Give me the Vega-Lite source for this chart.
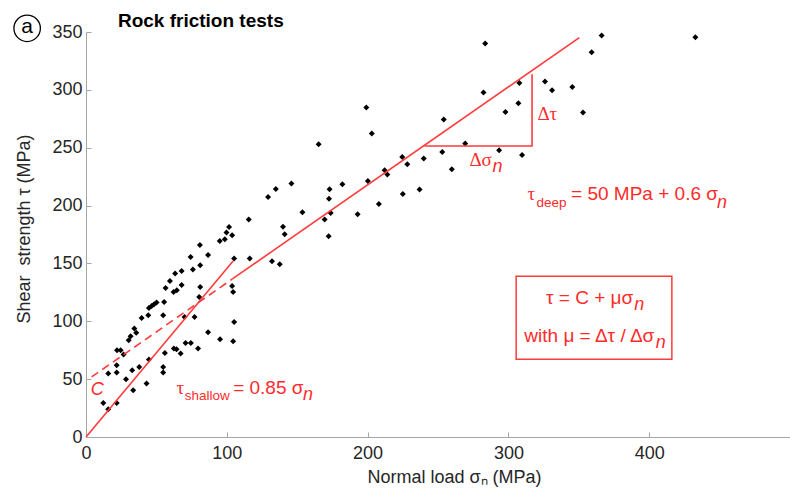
{
  "$schema": "https://vega.github.io/schema/vega-lite/v6.json",
  "width": 704,
  "height": 405,
  "autosize": {"type": "none"},
  "padding": {"left": 86, "top": 32, "right": 0, "bottom": 53},
  "config": {"view": {"stroke": null}, "font": "Liberation Sans"},
  "datasets": {
    "pts": [
      {"x":80.9,"y":165.9},{"x":95.0,"y":169.4},{"x":98.6,"y":170.9},{"x":99.8,"y":176.7},{"x":101.6,"y":181.5},{"x":103.8,"y":174.3},{"x":74.3,"y":155.6},{"x":86.7,"y":157.3},{"x":105.2,"y":154.2},{"x":75.9,"y":144.7},{"x":81.1,"y":148.4},{"x":63.3,"y":141.2},{"x":67.9,"y":143.5},{"x":59.6,"y":134.8},{"x":56.5,"y":128.8},{"x":67.9,"y":131.4},{"x":62.2,"y":125.3},{"x":64.5,"y":126.8},{"x":81.1,"y":129.6},{"x":103.8,"y":130.5},{"x":104.5,"y":125.3},{"x":80.4,"y":121.0},{"x":55.5,"y":116.7},{"x":50.1,"y":116.2},{"x":48.4,"y":114.7},{"x":46.6,"y":113.2},{"x":44.7,"y":111.5},{"x":44.2,"y":105.2},{"x":39.5,"y":102.9},{"x":54.8,"y":105.2},{"x":70.0,"y":103.7},{"x":77.1,"y":103.7},{"x":34.3,"y":93.7},{"x":35.7,"y":90.2},{"x":31.7,"y":87.0},{"x":30.3,"y":83.6},{"x":86.7,"y":90.5},{"x":105.2,"y":99.4},{"x":95.2,"y":84.4},{"x":104.5,"y":82.7},{"x":22.0,"y":74.9},{"x":24.6,"y":74.9},{"x":26.7,"y":71.2},{"x":70.7,"y":81.2},{"x":74.5,"y":81.2},{"x":62.4,"y":76.4},{"x":64.3,"y":75.8},{"x":67.2,"y":72.1},{"x":79.6,"y":76.4},{"x":56.0,"y":72.6},{"x":44.7,"y":66.9},{"x":15.8,"y":54.8},{"x":21.8,"y":62.0},{"x":21.8,"y":55.7},{"x":28.4,"y":49.9},{"x":32.8,"y":57.6},{"x":37.8,"y":60.5},{"x":33.5,"y":40.4},{"x":43.0,"y":46.2},{"x":54.8,"y":60.5},{"x":54.8,"y":55.7},{"x":12.3,"y":29.4},{"x":15.8,"y":23.9},{"x":21.8,"y":29.4},
      {"x":115.6,"y":187.9},{"x":116.3,"y":154.2},{"x":129.3,"y":207.4},{"x":134.8,"y":214.3},{"x":145.9,"y":219.0},{"x":132.1,"y":151.9},{"x":137.6,"y":149.3},{"x":139.9,"y":181.8},{"x":141.1,"y":175.2},{"x":153.7,"y":194.2},{"x":165.2,"y":253.0},{"x":173.0,"y":214.1},{"x":172.6,"y":206.0},{"x":169.5,"y":187.9},{"x":173.8,"y":193.6},{"x":172.3,"y":173.5},{"x":182.1,"y":218.4},{"x":192.9,"y":192.5},{"x":200.2,"y":221.3},{"x":199.1,"y":284.7},{"x":203.0,"y":262.2},{"x":208.0,"y":201.4},{"x":212.1,"y":230.5},{"x":214.0,"y":226.8},{"x":224.6,"y":242.0},{"x":228.2,"y":235.7},{"x":225.0,"y":210.0},{"x":236.9,"y":213.8},{"x":239.9,"y":240.6},{"x":254.1,"y":274.3},{"x":253.0,"y":246.3},{"x":259.8,"y":231.4},{"x":269.3,"y":253.6},{"x":283.5,"y":340.0},{"x":282.3,"y":297.7},{"x":307.8,"y":306.0},{"x":307.1,"y":288.4},{"x":297.9,"y":280.9},{"x":293.4,"y":247.8},{"x":309.7,"y":243.7},{"x":326.0,"y":307.2},{"x":331.0,"y":299.7},{"x":345.4,"y":302.5},{"x":353.0,"y":280.4},{"x":359.1,"y":332.5},{"x":366.2,"y":346.9},{"x":432.8,"y":345.5}
    ],
    "solid": [
      {"seg":"shallow","i":0,"x":0,"y":0},{"seg":"shallow","i":1,"x":104.5,"y":152.1},
      {"seg":"deep","i":0,"x":104,"y":136.6},{"seg":"deep","i":1,"x":350.4,"y":345.2},
      {"seg":"triangle","i":0,"x":240.4,"y":251.5},{"seg":"triangle","i":1,"x":316.8,"y":251.5},{"seg":"triangle","i":2,"x":316.8,"y":313.5}
    ],
    "dashed": [
      {"x":4,"y":51.9},{"x":104,"y":136.6}
    ],
    "box": [
      {"x":305.5,"x2":416.1,"y":138.9,"y2":67.2}
    ],
    "sans": [
      {"x":344.5,"y":205.2,"text":"= 50 MPa + 0.6 σ"},
      {"x":326.7,"y":115.3,"text":"τ = C + μσ"},
      {"x":311.3,"y":82.1,"text":"with μ = Δτ / Δσ"},
      {"x":104.5,"y":37.5,"text":"= 0.85 σ"}
    ],
    "serif": [
      {"x":320.6,"y":273.7,"text":"Δτ"},
      {"x":272.3,"y":234.0,"text":"Δσ"},
      {"x":313.5,"y":205.2,"text":"τ"},
      {"x":64.3,"y":37.5,"text":"τ"}
    ],
    "subs": [
      {"x":319.9,"y":198.8,"text":"deep"},
      {"x":70.2,"y":32.3,"text":"shallow"}
    ],
    "ital": [
      {"x":288.7,"y":229.0,"text":"n"},
      {"x":448.2,"y":197.7,"text":"n"},
      {"x":389.4,"y":110.1,"text":"n"},
      {"x":404.7,"y":77.3,"text":"n"},
      {"x":154.1,"y":31.7,"text":"n"},
      {"x":3.3,"y":36.0,"text":"C"}
    ],
    "panel": [
      {"x":-41.8,"y":353.2,"text":"a"}
    ],
    "heading": [
      {"x":22.7,"y":354.4,"text":"Rock friction tests"}
    ]
  },
  "layer": [
    {
      "data": {"name": "pts"},
      "mark": {"type": "point", "shape": "diamond", "filled": true, "size": 36, "color": "#000000", "opacity": 1},
      "encoding": {
        "x": {"field": "x", "type": "quantitative", "scale": {"domain": [0, 500], "nice": false, "zero": false},
          "axis": {"title": "Normal load σₙ (MPa)", "values": [0, 100, 200, 300, 400], "grid": false, "domainColor": "#a6a6a6", "tickColor": "#a6a6a6", "tickSize": -5, "labelPadding": 12, "labelFontSize": 18, "labelColor": "#262626", "titleFontSize": 18, "titleFontWeight": "normal", "titleColor": "#262626", "titleX": 368, "titleY": 45, "titleBaseline": "alphabetic", "labelFlush": false}},
        "y": {"field": "y", "type": "quantitative", "scale": {"domain": [0, 350], "nice": false, "zero": false},
          "axis": {"title": "Shear\u00a0\u00a0strength τ (MPa)", "values": [0, 50, 100, 150, 200, 250, 300, 350], "grid": false, "domainColor": "#a6a6a6", "tickColor": "#a6a6a6", "tickSize": -5, "labelPadding": 9, "labelFontSize": 18, "labelColor": "#262626", "titleFontSize": 18, "titleFontWeight": "normal", "titleColor": "#262626", "titleX": -57, "titleY": 196.5, "titleBaseline": "alphabetic", "labelFlush": false}}
      }
    },
    {
      "data": {"name": "solid"},
      "mark": {"type": "line", "color": "#ff3b3b", "strokeWidth": 1.6},
      "encoding": {
        "x": {"field": "x", "type": "quantitative"},
        "y": {"field": "y", "type": "quantitative"},
        "detail": {"field": "seg"},
        "order": {"field": "i"}
      }
    },
    {
      "data": {"name": "dashed"},
      "mark": {"type": "line", "color": "#ff3b3b", "strokeWidth": 1.6, "strokeDash": [8, 5]},
      "encoding": {
        "x": {"field": "x", "type": "quantitative"},
        "y": {"field": "y", "type": "quantitative"}
      }
    },
    {
      "data": {"name": "box"},
      "mark": {"type": "rect", "fill": null, "fillOpacity": 0, "stroke": "#ff3b3b", "strokeWidth": 1.5},
      "encoding": {
        "x": {"field": "x", "type": "quantitative"},
        "x2": {"field": "x2"},
        "y": {"field": "y", "type": "quantitative"},
        "y2": {"field": "y2"}
      }
    },
    {
      "data": {"name": "sans"},
      "mark": {"type": "text", "align": "left", "baseline": "alphabetic", "fontSize": 19, "color": "#ff2b2b", "font": "Liberation Sans"},
      "encoding": {
        "x": {"field": "x", "type": "quantitative"},
        "y": {"field": "y", "type": "quantitative"},
        "text": {"field": "text"}
      }
    },
    {
      "data": {"name": "serif"},
      "mark": {"type": "text", "align": "left", "baseline": "alphabetic", "fontSize": 19, "color": "#ff2b2b", "font": "Liberation Serif"},
      "encoding": {
        "x": {"field": "x", "type": "quantitative"},
        "y": {"field": "y", "type": "quantitative"},
        "text": {"field": "text"}
      }
    },
    {
      "data": {"name": "subs"},
      "mark": {"type": "text", "align": "left", "baseline": "alphabetic", "fontSize": 13.5, "color": "#ff2b2b", "font": "Liberation Sans"},
      "encoding": {
        "x": {"field": "x", "type": "quantitative"},
        "y": {"field": "y", "type": "quantitative"},
        "text": {"field": "text"}
      }
    },
    {
      "data": {"name": "ital"},
      "mark": {"type": "text", "align": "left", "baseline": "alphabetic", "fontSize": 18, "fontStyle": "italic", "color": "#ff2b2b", "font": "Liberation Sans"},
      "encoding": {
        "x": {"field": "x", "type": "quantitative"},
        "y": {"field": "y", "type": "quantitative"},
        "text": {"field": "text"}
      }
    },
    {
      "data": {"name": "heading"},
      "mark": {"type": "text", "align": "left", "baseline": "alphabetic", "fontSize": 19, "fontWeight": "bold", "color": "#000000", "font": "Liberation Sans"},
      "encoding": {
        "x": {"field": "x", "type": "quantitative"},
        "y": {"field": "y", "type": "quantitative"},
        "text": {"field": "text"}
      }
    },
    {
      "data": {"name": "panel"},
      "mark": {"type": "point", "shape": "circle", "size": 700, "filled": false, "stroke": "#000000", "strokeWidth": 1.3, "opacity": 1},
      "encoding": {
        "x": {"field": "x", "type": "quantitative"},
        "y": {"field": "y", "type": "quantitative"}
      }
    },
    {
      "data": {"name": "panel"},
      "mark": {"type": "text", "align": "center", "baseline": "middle", "fontSize": 21, "color": "#000000", "font": "Liberation Sans", "dy": -1},
      "encoding": {
        "x": {"field": "x", "type": "quantitative"},
        "y": {"field": "y", "type": "quantitative"},
        "text": {"field": "text"}
      }
    }
  ]
}
